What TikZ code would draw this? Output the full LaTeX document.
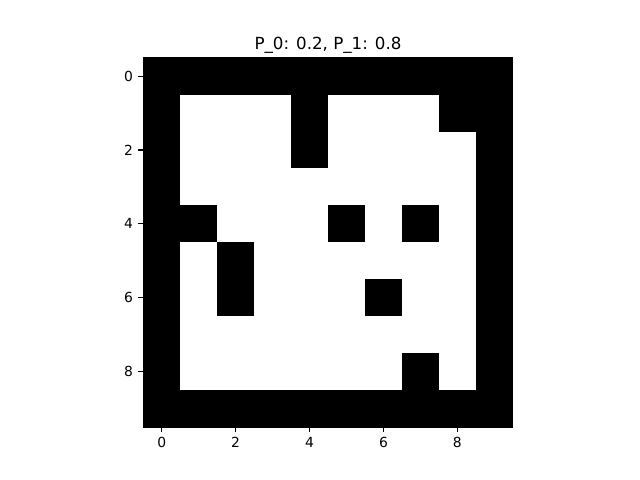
\documentclass[tikz,border=0pt]{standalone}
\usepackage{fontspec}
\setmainfont{DejaVu Sans}
\begin{document}
\begin{tikzpicture}[x=0.72pt,y=-0.72pt,
  cell/.style={fill=black},
  tick/.style={line width=0.8pt,black},
  ticklabel/.style={inner sep=0pt,font=\fontsize{10}{12}\selectfont},
  titlelabel/.style={inner sep=0pt,font=\fontsize{12}{14}\selectfont}]
\useasboundingbox[fill=white] (0,0) rectangle (640,480);
\def\L{143.2}\def\T{57.6}\def\C{36.96}
% border cells
\foreach \i in {0,...,9}{
  \fill[cell] ({\L+\C*\i},{\T}) rectangle ++(\C,\C);
  \fill[cell] ({\L+\C*\i},{\T+9*\C}) rectangle ++(\C,\C);
  \fill[cell] ({\L},{\T+\C*\i}) rectangle ++(\C,\C);
  \fill[cell] ({\L+9*\C},{\T+\C*\i}) rectangle ++(\C,\C);
}
% interior black cells (row/col)
\foreach \r/\c in {1/4,2/4,1/8,4/1,4/5,4/7,5/2,6/2,6/6,8/7}{
  \fill[cell] ({\L+\C*\c},{\T+\C*\r}) rectangle ++(\C,\C);
}
% frame
\draw[line width=0.8pt] (\L,\T) rectangle ({\L+10*\C},{\T+10*\C});
% ticks and labels
\foreach \v in {0,2,4,6,8}{
  \draw[tick] ({\L+\C*(\v+0.5)},{\T+10*\C}) -- ++(0,4.86);
  \node[ticklabel,anchor=north] (bx\v) at ({\L+\C*(\v+0.5)},{\T+10*\C+9.9}) {\v};
  \draw[tick] ({\L},{\T+\C*(\v+0.5)}) -- ++(-4.86,0);
  \node[ticklabel,anchor=east] (ly\v) at ({\L-9.9},{\T+\C*(\v+0.5)}) {\v};
}
\node[titlelabel,anchor=base] (title) at (328,49.3) {P\_0: 0.2, P\_1: 0.8};
\end{tikzpicture}
\end{document}
